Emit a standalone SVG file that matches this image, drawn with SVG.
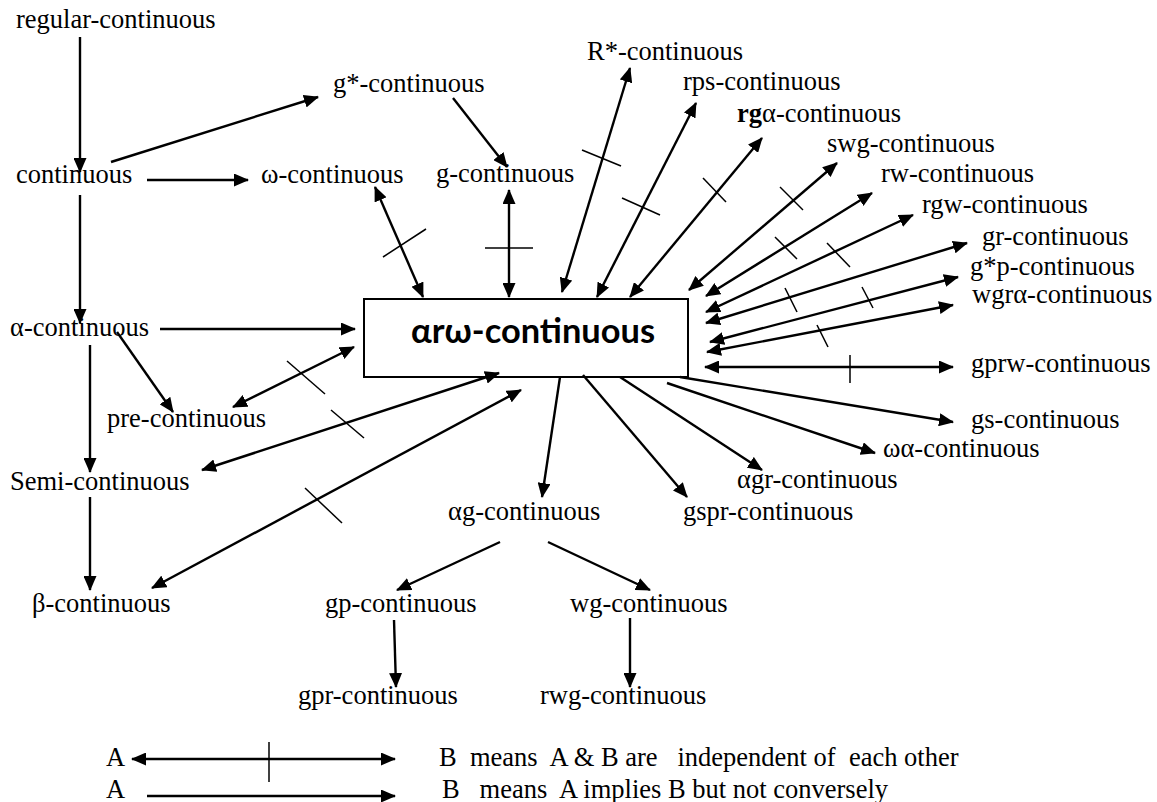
<svg xmlns="http://www.w3.org/2000/svg" width="1157" height="802" viewBox="0 0 1157 802">
<style>
  .t { font-family: "Liberation Serif", "Times New Roman", serif; font-size: 26.5px; fill: #000; }
  .main { font-family: Lato, "Liberation Sans", sans-serif; font-weight: bold; font-size: 34px; fill: #000; }
  .e { stroke: #000; stroke-width: 2.4; fill: none; }
  .a { marker-end: url(#ah); }
  .d { marker-start: url(#ah); marker-end: url(#ah); }
  .x { stroke: #000; stroke-width: 1.5; fill: none; }
</style>
<defs>
  <marker id="ah" markerUnits="userSpaceOnUse" viewBox="0 0 15 13" markerWidth="15" markerHeight="13" refX="14" refY="6.5" orient="auto-start-reverse">
    <path d="M0,0 L15,6.5 L0,13 z" fill="#000"/>
  </marker>
</defs>
<rect width="1157" height="802" fill="#fff"/>

<g id="n-central">
  <rect x="364" y="299" width="324" height="78" fill="#fff" stroke="#000" stroke-width="2"/>
  <text class="main" x="411" y="343" textLength="244" lengthAdjust="spacingAndGlyphs">αrω-continuous</text>
</g>
<g id="n-regular"><text class="t" x="16" y="28">regular-continuous</text></g>
<g id="n-gstar"><text class="t" x="333" y="92">g*-continuous</text></g>
<g id="n-rstar"><text class="t" x="587" y="60">R*-continuous</text></g>
<g id="n-rps"><text class="t" x="683" y="90">rps-continuous</text></g>
<g id="n-rga"><text class="t" x="737" y="122"><tspan font-weight="bold">rg</tspan>α-continuous</text></g>
<g id="n-swg"><text class="t" x="827" y="152">swg-continuous</text></g>
<g id="n-rw"><text class="t" x="881" y="182">rw-continuous</text></g>
<g id="n-rgw"><text class="t" x="922" y="213">rgw-continuous</text></g>
<g id="n-gr"><text class="t" x="982" y="245">gr-continuous</text></g>
<g id="n-gstarp"><text class="t" x="970" y="275">g*p-continuous</text></g>
<g id="n-wgra"><text class="t" x="972" y="303">wgrα-continuous</text></g>
<g id="n-gprw"><text class="t" x="971" y="372">gprw-continuous</text></g>
<g id="n-gs"><text class="t" x="971" y="428">gs-continuous</text></g>
<g id="n-omegaalpha"><text class="t" x="883" y="457">ωα-continuous</text></g>
<g id="n-agr"><text class="t" x="737" y="488">αgr-continuous</text></g>
<g id="n-gspr"><text class="t" x="683" y="520">gspr-continuous</text></g>
<g id="n-continuous"><text class="t" x="16" y="183">continuous</text></g>
<g id="n-omega"><text class="t" x="261" y="183">ω-continuous</text></g>
<g id="n-g"><text class="t" x="436" y="182">g-continuous</text></g>
<g id="n-alpha"><text class="t" x="10" y="336">α-continuous</text></g>
<g id="n-pre"><text class="t" x="107" y="427">pre-continuous</text></g>
<g id="n-semi"><text class="t" x="10" y="490">Semi-continuous</text></g>
<g id="n-beta"><text class="t" x="32" y="612">β-continuous</text></g>
<g id="n-ag"><text class="t" x="448" y="520">αg-continuous</text></g>
<g id="n-gp"><text class="t" x="325" y="612">gp-continuous</text></g>
<g id="n-wg"><text class="t" x="570" y="612">wg-continuous</text></g>
<g id="n-gpr"><text class="t" x="298" y="704">gpr-continuous</text></g>
<g id="n-rwg"><text class="t" x="540" y="704">rwg-continuous</text></g>

<g id="connectors">
  <line class="e a" x1="80" y1="37" x2="80" y2="172"/>
  <line class="e a" x1="111" y1="162" x2="318" y2="97"/>
  <line class="e a" x1="147" y1="180" x2="248" y2="180"/>
  <line class="e a" x1="453" y1="98" x2="507" y2="167"/>
  <line class="e a" x1="80" y1="195" x2="80" y2="323"/>
  <line class="e a" x1="160" y1="329" x2="355" y2="329"/>
  <line class="e a" x1="90" y1="345" x2="90" y2="472"/>
  <line class="e a" x1="117" y1="332" x2="173" y2="412"/>
  <line class="e d" x1="233" y1="407" x2="354" y2="347"/>
  <line class="x" x1="287" y1="361" x2="325" y2="394"/>
  <line class="e d" x1="202" y1="470" x2="499" y2="373"/>
  <line class="x" x1="331" y1="410" x2="364" y2="438"/>
  <line class="e a" x1="90" y1="497" x2="90" y2="590"/>
  <line class="e d" x1="152" y1="588" x2="521" y2="390"/>
  <line class="x" x1="305" y1="488" x2="342" y2="523"/>
  <line class="e d" x1="375" y1="187" x2="423" y2="297"/>
  <line class="x" x1="383" y1="257" x2="426" y2="229"/>
  <line class="e d" x1="509" y1="190" x2="509" y2="297"/>
  <line class="x" x1="485" y1="248" x2="533" y2="248"/>
  <line class="e d" x1="630" y1="68" x2="562" y2="292"/>
  <line class="x" x1="582" y1="150" x2="621" y2="166"/>
  <line class="e d" x1="696" y1="103" x2="597" y2="297"/>
  <line class="x" x1="622" y1="198" x2="660" y2="215"/>
  <line class="e d" x1="762" y1="138" x2="630" y2="297"/>
  <line class="x" x1="703" y1="178" x2="726" y2="202"/>
  <line class="e d" x1="837" y1="163" x2="689" y2="290"/>
  <line class="x" x1="780" y1="187" x2="803" y2="210"/>
  <line class="e d" x1="872" y1="193" x2="706" y2="296"/>
  <line class="x" x1="775" y1="237" x2="797" y2="259"/>
  <line class="e d" x1="913" y1="215" x2="706" y2="312"/>
  <line class="x" x1="827" y1="243" x2="850" y2="267"/>
  <line class="e d" x1="967" y1="243" x2="706" y2="323"/>
  <line class="x" x1="785" y1="288" x2="797" y2="312"/>
  <line class="e d" x1="958" y1="277" x2="710" y2="342"/>
  <line class="x" x1="862" y1="287" x2="873" y2="308"/>
  <line class="e d" x1="953" y1="305" x2="707" y2="352"/>
  <line class="x" x1="817" y1="325" x2="828" y2="347"/>
  <line class="e d" x1="953" y1="367" x2="705" y2="367"/>
  <line class="x" x1="850" y1="355" x2="850" y2="383"/>
  <line class="e a" x1="680" y1="377" x2="953" y2="422"/>
  <line class="e a" x1="667" y1="383" x2="875" y2="453"/>
  <line class="e a" x1="620" y1="377" x2="762" y2="470"/>
  <line class="e a" x1="583" y1="375" x2="687" y2="497"/>
  <line class="e a" x1="560" y1="377" x2="542" y2="497"/>
  <line class="e a" x1="500" y1="542" x2="397" y2="590"/>
  <line class="e a" x1="548" y1="542" x2="650" y2="590"/>
  <line class="e a" x1="394" y1="620" x2="396" y2="687"/>
  <line class="e a" x1="630" y1="618" x2="630" y2="687"/>
</g>

<g id="legend">
  <text class="t" x="106" y="766">A</text>
  <line class="e d" x1="132" y1="759" x2="395" y2="759"/>
  <line class="x" x1="269" y1="742" x2="269" y2="782"/>
  <text class="t" x="439" y="766" xml:space="preserve">B  means  A &amp; B are   independent of  each other</text>
  <text class="t" x="106" y="798">A</text>
  <line class="e a" x1="147" y1="796" x2="395" y2="796"/>
  <text class="t" x="442" y="798" xml:space="preserve">B   means  A implies B but not conversely</text>
</g>
</svg>
